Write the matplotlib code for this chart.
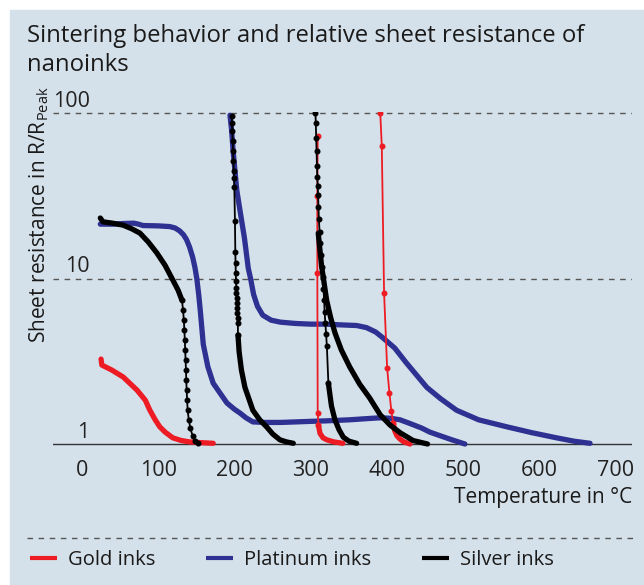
import matplotlib
matplotlib.use("Agg")
import matplotlib.pyplot as plt
from matplotlib.patches import Rectangle
from matplotlib.lines import Line2D

plt.rcParams['font.family'] = ['Open Sans', 'DejaVu Sans']

# colours of the three ink families
GOLD = '#ed1c24'
PLATINUM = '#2e3192'
SILVER = '#000000'
BG = '#d5e1ea'

# --- Gold inks ---------------------------------------------------------
gold1_t = [25, 26, 39, 54, 72, 83, 89, 96, 102, 109, 119, 130, 141, 155, 172]
gold1_r = [3.26, 3.0, 2.8, 2.54, 2.12, 1.84, 1.6, 1.40, 1.27, 1.18, 1.09, 1.05, 1.03, 1.02, 1.01]

gold2_drop_t = [309, 308.5, 308.5, 309, 310]
gold2_drop_r = [73, 31.6, 10.8, 1.54, 1.3]
gold2_tail_t = [310, 312, 316, 321, 330, 342]
gold2_tail_r = [1.3, 1.16, 1.09, 1.06, 1.03, 1.01]

gold3_drop_t = [391, 393, 396, 400, 403, 405.5, 408]
gold3_drop_r = [100, 63, 8.2, 2.88, 2.04, 1.59, 1.34]
gold3_tail_t = [408, 410, 413, 417, 422, 430]
gold3_tail_r = [1.34, 1.2, 1.12, 1.07, 1.03, 1.0]

# --- Platinum inks -----------------------------------------------------
plat1_t = [24, 40, 55, 68, 74, 80, 100, 115, 122, 128, 133, 137, 141, 145, 148, 150.5,
           153, 155, 159, 165, 172, 181, 190, 200, 207, 215, 224, 240, 260, 280,
           299, 320, 350, 380, 391, 405, 417, 430, 445, 456, 470, 485, 502]
plat1_r = [21.3, 21.3, 21.5, 21.6, 21.3, 20.9, 20.8, 20.6, 20.2, 19.4, 18.4, 17.2, 15.5,
           13.5, 11.7, 10, 8.0, 6.45, 4.0, 2.93, 2.33, 2.03, 1.77, 1.62, 1.54,
           1.44, 1.36, 1.35, 1.35, 1.36, 1.37, 1.38, 1.40, 1.43, 1.44, 1.43, 1.40,
           1.33, 1.25, 1.18, 1.12, 1.06, 1.0]

plat2_t = [194, 196, 198, 200.5, 203, 207, 213, 218, 221, 225, 230, 237, 248, 260,
           280, 300, 320, 338, 360, 373, 385, 394, 410, 425, 452, 470, 491, 520,
           557, 590, 622, 645, 666]
plat2_r = [97, 80, 60, 45, 34, 26, 17.5, 11.5, 10, 8.0, 6.8, 6.0, 5.6, 5.45, 5.35,
           5.3, 5.3, 5.25, 5.2, 5.05, 4.75, 4.4, 3.8, 3.1, 2.2, 1.88, 1.6, 1.4,
           1.27, 1.17, 1.09, 1.04, 1.01]

# --- Silver inks -------------------------------------------------------
silver1_t = [24, 27.5, 40, 54, 65, 76, 87, 98, 109, 119, 126, 131]
silver1_r = [23.2, 22.0, 21.6, 21.0, 20.0, 18.8, 16.6, 14.3, 12.0, 9.8, 8.5, 7.4]
silver1_drop_t = [131, 132.5, 133.5, 134.2, 134.8, 135.3, 135.8, 136.3, 136.7, 137.2,
                  137.8, 138.5, 140, 142, 145, 148.5, 152]
silver1_drop_r = [7.4, 6.45, 5.6, 4.88, 4.25, 3.7, 3.22, 2.8, 2.44, 2.12, 1.84, 1.6,
                  1.4, 1.25, 1.12, 1.04, 1.01]

silver2_drop_t = [196.2, 196.5, 197, 197.5, 198, 198.5, 199, 199.3, 199.7, 200.5,
                  201, 201.3, 201.6, 201.9, 202.2, 202.5, 202.8, 203.1, 203.4,
                  203.7, 204, 204.3, 204.5]
silver2_drop_r = [95.9, 87, 77.9, 67.7, 58.9, 51.3, 44.6, 40.5, 35.7, 22.3, 14.5,
                  12.4, 10.8, 9.66, 8.77, 8.17, 7.62, 7.11, 6.63, 6.19, 5.77, 5.38,
                  4.56]
silver2_tail_t = [204.5, 206, 209, 213.6, 224, 233, 242, 250, 259.5, 268, 277]
silver2_tail_r = [4.56, 3.6, 2.8, 2.2, 1.6, 1.4, 1.27, 1.15, 1.06, 1.03, 1.01]

silver3_drop_t = [306, 306.5, 307, 307.5, 308, 308.5, 309, 309.5, 310, 310.5, 311.5,
                  312.5, 313.5, 314.5, 315.5, 316.5, 317.5, 318, 319, 320, 321, 323]
silver3_drop_r = [100, 87, 71, 59, 48, 41, 36, 32, 27, 23, 19, 16.4, 13.9, 11.8, 10.2,
                  8.7, 7.4, 6.3, 5.4, 4.6, 3.9, 2.33]
silver3_tail_t = [323, 327, 331.6, 337, 342.5, 350, 360]
silver3_tail_r = [2.33, 1.7, 1.4, 1.22, 1.1, 1.04, 1.01]

silver4_t = [309.7, 314, 320.7, 326, 331.6, 340, 351, 364, 377, 391, 404, 417, 434, 453]
silver4_r = [18.8, 12, 7.4, 5.8, 4.7, 3.7, 2.92, 2.3, 1.9, 1.5, 1.3, 1.17, 1.05, 1.0]

x_ticks = [0, 100, 200, 300, 400, 500, 600, 700]
y_ticks = [1, 10, 100]

fig = plt.figure(figsize=(6.44, 5.85), dpi=100)
fig.patches.append(Rectangle((10 / 644, 0), 1 - 10 / 644, 1 - 10 / 585,
                             transform=fig.transFigure, color=BG, zorder=-10))

ax = fig.add_axes([53 / 644, 1 - 447.7 / 585, 579 / 644, 335.4 / 585])
ax.set_facecolor('none')
ax.set_yscale('log')
ax.set_xlim(-38, 721)
ax.set_ylim(0.95, 101)
for s in ax.spines.values():
    s.set_visible(False)

# grid lines and base line
for v in [10, 100]:
    ax.axhline(v, color='#555555', lw=1, ls=(0, (4, 4)), zorder=1)
ax.axhline(1, color='#333333', lw=1, zorder=1)

thick = dict(lw=3.8, solid_capstyle='round', solid_joinstyle='round')
thin = dict(lw=1.3, marker='o', ms=3.3)

# platinum
ax.plot(plat1_t, plat1_r, color=PLATINUM, zorder=2, **thick)
ax.plot(plat2_t, plat2_r, color=PLATINUM, zorder=2, **thick)

# gold
ax.plot(gold1_t, gold1_r, color=GOLD, zorder=3, **thick)
ax.plot(gold2_drop_t, gold2_drop_r, color=GOLD, zorder=3, **thin)
ax.plot(gold2_tail_t, gold2_tail_r, color=GOLD, zorder=3, **thick)
ax.plot(gold3_drop_t, gold3_drop_r, color=GOLD, zorder=3, **thin)
ax.plot(gold3_tail_t, gold3_tail_r, color=GOLD, zorder=3, **thick)

# silver
ax.plot(silver1_t, silver1_r, color=SILVER, zorder=4, **thick)
ax.plot(silver1_drop_t, silver1_drop_r, color=SILVER, zorder=4, **thin)
ax.plot(silver2_drop_t, silver2_drop_r, color=SILVER, zorder=4, **thin)
ax.plot(silver2_tail_t, silver2_tail_r, color=SILVER, zorder=4, **thick)
ax.plot(silver3_drop_t, silver3_drop_r, color=SILVER, zorder=4, **thin)
ax.plot(silver3_tail_t, silver3_tail_r, color=SILVER, zorder=4, **thick)
ax.plot(silver4_t, silver4_r, color=SILVER, zorder=4, **thick)

ax.set_xticks(x_ticks)
ax.set_xticklabels([str(t) for t in x_ticks])
ax.set_yticks([])
ax.minorticks_off()
ax.tick_params(axis='x', length=0, pad=9, labelsize=15.5, labelcolor='#222222')

for v in y_ticks:
    ax.text(10, v * 1.02, str(v), ha='right', va='bottom', fontsize=15.5, color='#222222')

fig.text(27 / 644, 1 - 24 / 585,
         'Sintering behavior and relative sheet resistance of\nnanoinks',
         ha='left', va='top', fontsize=17.2, color='#1a1a1a', linespacing=1.28)

fig.text(39 / 644, 1 - 215 / 585, r'Sheet resistance in R/R$_\mathregular{Peak}$',
         rotation=90, ha='center', va='center', fontsize=15, color='#1a1a1a')
fig.text(632 / 644, 1 - 498 / 585, 'Temperature in °C', ha='right', va='center',
         fontsize=15, color='#1a1a1a')

fig.add_artist(Line2D([27 / 644, 634 / 644], [1 - 538 / 585] * 2,
                      transform=fig.transFigure, color='#555555', lw=1,
                      ls=(0, (4, 4))))

handles = [Line2D([], [], color=GOLD, lw=3, solid_capstyle='butt'),
           Line2D([], [], color=PLATINUM, lw=3, solid_capstyle='butt'),
           Line2D([], [], color=SILVER, lw=3, solid_capstyle='butt')]
fig.legend(handles, ['Gold inks', 'Platinum inks', 'Silver inks'], ncol=3,
           loc='center left', bbox_to_anchor=(30 / 644, 1 - 560 / 585),
           frameon=False, fontsize=14.5, handlelength=1.35, handletextpad=0.55,
           columnspacing=2.5, borderpad=0, borderaxespad=0, labelcolor='#1a1a1a')

fig.savefig('out.png', dpi=100)
